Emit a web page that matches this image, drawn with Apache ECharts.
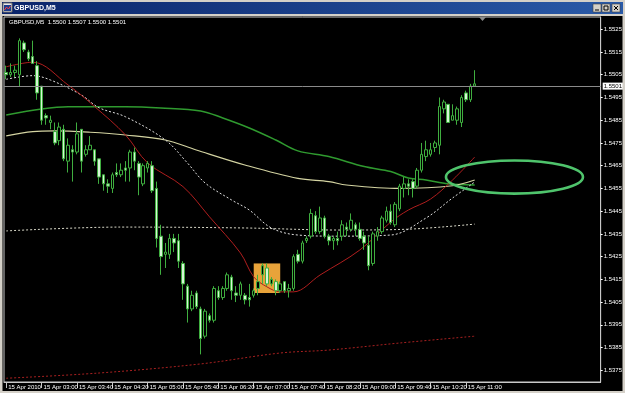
<!DOCTYPE html>
<html><head><meta charset="utf-8">
<script src="https://cdn.jsdelivr.net/npm/echarts@6/dist/echarts.min.js"></script>
<style>html,body{margin:0;padding:0;background:#000;}#c{width:625px;height:393px;}</style>
</head><body><div id="c"></div>
<script>
// ---- data (GBPUSD M5, 15 Apr 2010, from 02:20) ----
const opens  = [1.5506,1.5505,1.5506,1.5505,1.5519,1.5515,1.5513,1.5509,1.5500,1.5487,1.5484,1.5480,1.5476,1.5481,1.5467,1.5472,1.5471,1.5481,1.5470,1.5472,1.5472,1.5468,1.5461,1.5457,1.5455,1.5462,1.5461,1.5464,1.5464,1.5471,1.5466,1.5457,1.5464,1.5465,1.5455,1.5434,1.5426,1.5426,1.5433,1.5432,1.5422,1.5412,1.5402,1.5409,1.5402,1.5390,1.5399,1.5397,1.5410,1.5407,1.5411,1.5416,1.5409,1.5408,1.5408,1.5407,1.5408,1.5411,1.5417,1.5420,1.5413,1.5414,1.5410,1.5414,1.5410,1.5411,1.5426,1.5423,1.5432,1.5434,1.5443,1.5436,1.5442,1.5434,1.5432,1.5433,1.5434,1.5438,1.5437,1.5439,1.5437,1.5434,1.5430,1.5422,1.5434,1.5436,1.5441,1.5445,1.5439,1.5446,1.5455,1.5457,1.5458,1.5456,1.5463,1.5469,1.5470,1.5473,1.5474,1.5490,1.5492,1.5485,1.5485,1.5484,1.5497,1.5494,1.5500];
const closes = [1.5505,1.5506,1.5507,1.5520,1.5516,1.5512,1.5510,1.5497,1.5485,1.5486,1.5485,1.5475,1.5482,1.5468,1.5474,1.5471,1.5479,1.5467,1.5472,1.5474,1.5467,1.5460,1.5457,1.5456,1.5461,1.5461,1.5463,1.5463,1.5471,1.5467,1.5460,1.5465,1.5466,1.5454,1.5433,1.5425,1.5427,1.5433,1.5431,1.5423,1.5413,1.5402,1.5408,1.5403,1.5389,1.5401,1.5397,1.5411,1.5407,1.5411,1.5417,1.5410,1.5408,1.5413,1.5406,1.5406,1.5410,1.5414,1.5421,1.5413,1.5415,1.5410,1.5413,1.5410,1.5411,1.5425,1.5423,1.5431,1.5433,1.5444,1.5436,1.5442,1.5434,1.5432,1.5433,1.5432,1.5439,1.5437,1.5441,1.5437,1.5433,1.5431,1.5421,1.5435,1.5436,1.5442,1.5445,1.5440,1.5448,1.5456,1.5457,1.5456,1.5455,1.5463,1.5470,1.5472,1.5472,1.5475,1.5491,1.5493,1.5484,1.5487,1.5490,1.5495,1.5494,1.5500,1.5501];
const lows   = [1.5503,1.5504,1.5504,1.5500,1.5515,1.5511,1.5510,1.5494,1.5483,1.5483,1.5481,1.5474,1.5474,1.5467,1.5462,1.5458,1.5470,1.5462,1.5469,1.5472,1.5465,1.5457,1.5454,1.5453,1.5453,1.5460,1.5460,1.5458,1.5458,1.5463,1.5452,1.5456,1.5462,1.5453,1.5429,1.5417,1.5420,1.5424,1.5427,1.5420,1.5406,1.5396,1.5401,1.5402,1.5382,1.5389,1.5396,1.5396,1.5406,1.5406,1.5410,1.5406,1.5405,1.5406,1.5404,1.5403,1.5407,1.5408,1.5413,1.5412,1.5412,1.5408,1.5409,1.5409,1.5407,1.5410,1.5422,1.5422,1.5431,1.5433,1.5435,1.5435,1.5433,1.5430,1.5428,1.5430,1.5432,1.5434,1.5436,1.5434,1.5432,1.5428,1.5419,1.5421,1.5432,1.5435,1.5440,1.5439,1.5438,1.5445,1.5451,1.5452,1.5451,1.5455,1.5462,1.5467,1.5469,1.5471,1.5470,1.5488,1.5484,1.5485,1.5483,1.5482,1.5493,1.5493,1.5500];
const highs  = [1.5509,1.5510,1.5509,1.5521,1.5520,1.5516,1.5520,1.5511,1.5500,1.5488,1.5487,1.5484,1.5484,1.5483,1.5477,1.5474,1.5484,1.5481,1.5474,1.5478,1.5472,1.5468,1.5461,1.5459,1.5462,1.5466,1.5466,1.5467,1.5472,1.5473,1.5467,1.5466,1.5467,1.5467,1.5458,1.5439,1.5431,1.5435,1.5435,1.5435,1.5423,1.5413,1.5410,1.5410,1.5403,1.5402,1.5400,1.5412,1.5412,1.5412,1.5418,1.5417,1.5412,1.5414,1.5409,1.5413,1.5411,1.5417,1.5422,1.5422,1.5416,1.5415,1.5414,1.5414,1.5413,1.5426,1.5428,1.5432,1.5434,1.5446,1.5445,1.5447,1.5443,1.5435,1.5434,1.5436,1.5441,1.5440,1.5444,1.5440,1.5440,1.5436,1.5434,1.5436,1.5438,1.5443,1.5447,1.5448,1.5449,1.5457,1.5460,1.5459,1.5459,1.5464,1.5475,1.5476,1.5475,1.5476,1.5495,1.5494,1.5492,1.5492,1.5491,1.5496,1.5498,1.5501,1.5507];

// moving averages, [bar index, price]
const redMA    = [[0,1.55085],[6,1.55105],[14,1.55005],[20,1.5491],[27,1.54785],[32,1.54662],[40,1.54558],[46,1.54425],[53,1.54266],[56,1.54161],[59,1.54117],[62,1.54095],[65,1.54095],[71,1.54169],[80,1.54279],[87,1.54402],[91,1.54455],[96,1.54503],[101,1.54587],[106,1.54688]];
const whiteMA  = [[0,1.5503],[6,1.55046],[10,1.55027],[17,1.54961],[21,1.54905],[27,1.54865],[36,1.54763],[41,1.54662],[45,1.54574],[51,1.54499],[55,1.54455],[60,1.54376],[66,1.54345],[75,1.5434],[87,1.54345],[95,1.5442],[101,1.54508],[106,1.54578]];
const greenMA  = [[0,1.54873],[8,1.54899],[14,1.54909],[27,1.54909],[35,1.54904],[44,1.54891],[49,1.5486],[55,1.54816],[61,1.54763],[66,1.54715],[73,1.5469],[81,1.54646],[87,1.54624],[91,1.54596],[95,1.54587],[100,1.5457],[106,1.54565]];
const creamMA  = [[0,1.54781],[6,1.548],[11,1.54803],[19,1.54797],[27,1.54785],[36,1.54763],[43,1.54719],[54,1.54653],[66,1.54594],[73,1.5458],[77,1.54565],[89,1.5455],[101,1.54562],[106,1.54587]];
const flatMA   = [[0,1.54363],[26,1.5438],[54,1.54376],[75,1.54367],[90,1.5437],[106,1.54393]];
const redDotMA = [[0,1.53715],[21,1.53738],[44,1.53778],[62,1.53826],[73,1.53839],[89,1.5387],[106,1.539]];

const tickLabels = ['15 Apr 2010','15 Apr 03:00','15 Apr 03:40','15 Apr 04:20','15 Apr 05:00','15 Apr 05:40','15 Apr 06:20','15 Apr 07:00','15 Apr 07:40','15 Apr 08:20','15 Apr 09:00','15 Apr 09:40','15 Apr 10:20','15 Apr 11:00'];
const priceTicks = [1.5375,1.5385,1.5395,1.5405,1.5415,1.5425,1.5435,1.5445,1.5455,1.5465,1.5475,1.5485,1.5495,1.5505,1.5515,1.5525];
const bidPrice = 1.5501;
const infoText = 'GBPUSD,M5  1.5500 1.5507 1.5500 1.5501';
const titleText = 'GBPUSD,M5';
const boxRange = {from:56, to:62, top:1.5422, bottom:1.5409};
const ellipseAt = {index:115, price:1.5460, halfBars:15.5, halfPrice:0.00073};

// ---- categories: 5-minute slots incl. empty right margin ----
const slotCount = 135;
const categories = [];
for (let i = 0; i < slotCount; i++) {
  const t = 140 + 5 * i;
  categories.push(String(Math.floor(t / 60)).padStart(2, '0') + ':' + String(t % 60).padStart(2, '0'));
}
const candleData = opens.map((o, i) => [o, closes[i], lows[i], highs[i]]);
const labelIdx = i => i % 8 === 0 && i / 8 < tickLabels.length;
const FONT = '"Liberation Sans Narrow","Liberation Sans",Arial,sans-serif';

const chart = echarts.init(document.getElementById('c'), null, {renderer: 'canvas'});
function lineSeries(data, color, width, type) {
  return {type: 'line', data: data, showSymbol: false, silent: true, smooth: 0.35,
    lineStyle: {color: color, width: width, type: type}, z: 3, animation: false};
}
chart.setOption({
  animation: false,
  backgroundColor: '#000',
  grid: {left: 4, right: 24, top: 17, bottom: 11, show: true, borderColor: '#c8c8c8', borderWidth: 1, backgroundColor: '#000'},
  xAxis: {
    type: 'category', data: categories, boundaryGap: true,
    axisLine: {show: true, lineStyle: {color: '#c8c8c8'}},
    axisTick: {show: true, alignWithLabel: true, interval: labelIdx, length: 6, lineStyle: {color: '#c8c8c8'}},
    axisLabel: {interval: labelIdx, formatter: (v, i) => tickLabels[i / 8], color: '#fff', fontSize: 6,
      fontFamily: FONT, align: 'left', margin: 2, padding: [0, 0, 0, 2]},
    splitLine: {show: false}
  },
  yAxis: {
    type: 'value', position: 'right', min: 1.536985, max: 1.55304, scale: true,
    splitLine: {show: false},
    axisLine: {show: true, lineStyle: {color: '#c8c8c8'}},
    axisTick: {show: true, customValues: priceTicks, length: 2, lineStyle: {color: '#fff'}},
    axisLabel: {customValues: priceTicks, formatter: v => v.toFixed(4), color: '#fff', fontSize: 6, fontFamily: FONT, margin: 3}
  },
  series: [
    {
      type: 'candlestick', data: candleData, barWidth: 3, z: 4,
      itemStyle: {color: '#000', color0: '#d6f5d6', borderColor: '#3fae3f', borderColor0: '#3fae3f', borderWidth: 1},
      markArea: {silent: true, z: 1, itemStyle: {color: '#e8a33a'},
        data: [[{xAxis: categories[boxRange.from], yAxis: boxRange.top}, {xAxis: categories[boxRange.to], yAxis: boxRange.bottom}]]},
      markLine: {silent: true, symbol: 'none', animation: false,
        lineStyle: {color: '#8a8a8a', width: 1, type: 'solid'},
        label: {position: 'end', distance: 2, formatter: () => bidPrice.toFixed(4), backgroundColor: '#fff', color: '#000',
          fontSize: 6, fontFamily: FONT, padding: [1, 1, 0, 1]},
        data: [{yAxis: bidPrice}]}
    },
    lineSeries(redDotMA, '#a82020', 1, [2, 2]),
    lineSeries(flatMA, '#d8d8c8', 1, [2, 2]),
    lineSeries(greenMA, '#2f9a2f', 1.5, 'solid'),
    lineSeries(creamMA, '#d4d4a2', 1.1, 'solid'),
    lineSeries(whiteMA, '#e0e0e0', 1, [2, 2]),
    lineSeries(redMA, '#b01e1e', 1, 'solid')
  ]
});

// annotation ellipse anchored to data coordinates
const c0 = chart.convertToPixel({gridIndex: 0}, [categories[ellipseAt.index], ellipseAt.price]);
const cTop = chart.convertToPixel({gridIndex: 0}, [categories[ellipseAt.index], ellipseAt.price + ellipseAt.halfPrice]);
const pA = chart.convertToPixel({gridIndex: 0}, [categories[0], ellipseAt.price]);
const pB = chart.convertToPixel({gridIndex: 0}, [categories[100], ellipseAt.price]);
const bw = (pB[0] - pA[0]) / 100;

chart.setOption({
  graphic: [
    {type: 'rect', shape: {x: 0, y: 0, width: 625, height: 16}, style: {fill: '#d4d0c8'}, z: 100, silent: true},
    {type: 'rect', shape: {x: 2, y: 2, width: 621, height: 12},
      style: {fill: new echarts.graphic.LinearGradient(0, 0, 1, 0, [{offset: 0, color: '#0a246a'}, {offset: 1, color: '#2a5aa8'}])}, z: 101, silent: true},
    {type: 'rect', shape: {x: 3, y: 3, width: 9, height: 9}, style: {fill: '#e8e8e8', stroke: '#6a6a6a', lineWidth: 1}, z: 102},
    {type: 'rect', shape: {x: 4, y: 5, width: 7, height: 6}, style: {fill: '#1c3c8c'}, z: 103},
    {type: 'polyline', shape: {points: [[4.5, 10], [6.5, 7], [8.5, 9], [10.5, 6]]}, style: {stroke: '#ff4040', lineWidth: 1}, z: 104},
    {type: 'text', x: 14, y: 8, style: {text: titleText, fill: '#fff', font: 'bold 7px "Liberation Sans", Arial', verticalAlign: 'middle'}, z: 102},
    {type: 'rect', shape: {x: 593, y: 4, width: 8, height: 8}, style: {fill: '#d4d0c8', stroke: '#404040', lineWidth: 0.6}, z: 102},
    {type: 'rect', shape: {x: 602, y: 4, width: 8, height: 8}, style: {fill: '#d4d0c8', stroke: '#404040', lineWidth: 0.6}, z: 102},
    {type: 'rect', shape: {x: 612, y: 4, width: 8, height: 8}, style: {fill: '#d4d0c8', stroke: '#404040', lineWidth: 0.6}, z: 102},
    {type: 'line', shape: {x1: 595, y1: 10, x2: 599, y2: 10}, style: {stroke: '#000', lineWidth: 1}, z: 103},
    {type: 'rect', shape: {x: 604, y: 6, width: 4, height: 4}, style: {fill: 'none', stroke: '#000', lineWidth: 1}, z: 103},
    {type: 'line', shape: {x1: 614, y1: 6, x2: 618, y2: 10}, style: {stroke: '#000', lineWidth: 1}, z: 103},
    {type: 'line', shape: {x1: 618, y1: 6, x2: 614, y2: 10}, style: {stroke: '#000', lineWidth: 1}, z: 103},
    {type: 'rect', shape: {x: 0, y: 0, width: 2.5, height: 393}, style: {fill: '#d4d0c8'}, z: 100, silent: true},
    {type: 'rect', shape: {x: 622.5, y: 0, width: 2.5, height: 393}, style: {fill: '#d4d0c8'}, z: 100, silent: true},
    {type: 'rect', shape: {x: 0, y: 391, width: 625, height: 2}, style: {fill: '#d4d0c8'}, z: 100, silent: true},
    {type: 'polygon', shape: {points: [[479, 17], [486, 17], [482.5, 21]]}, style: {fill: '#8c8c8c'}, z: 50},
    {type: 'text', x: 9, y: 22, style: {text: infoText, fill: '#fff', font: '6px ' + FONT, verticalAlign: 'middle'}, z: 50},
    {type: 'ellipse', shape: {cx: c0[0], cy: c0[1], rx: ellipseAt.halfBars * bw, ry: Math.abs(cTop[1] - c0[1])},
      style: {fill: 'none', stroke: '#4fc46c', lineWidth: 2.6}, z: 60, silent: true}
  ]
});
</script></body></html>
